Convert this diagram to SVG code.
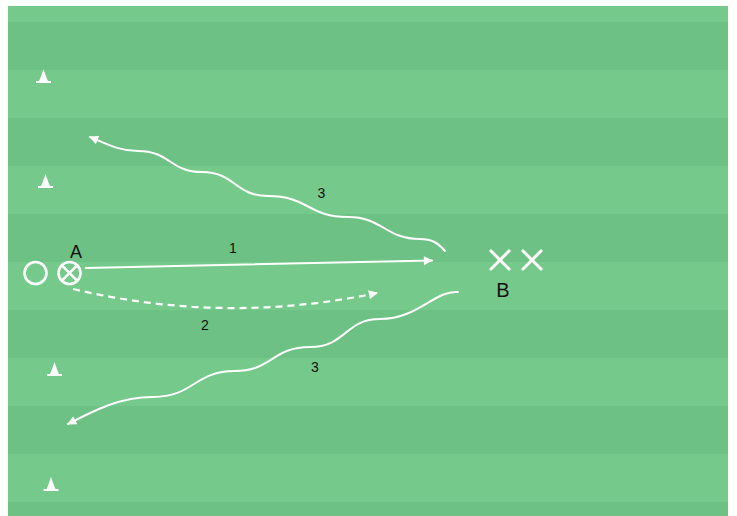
<svg xmlns="http://www.w3.org/2000/svg" width="737" height="516" viewBox="0 0 737 516">
<defs>
<style>
.light{fill:#75ca8b}
.dark{fill:#6ec184}
.line{fill:none;stroke:#ffffff;stroke-width:2;stroke-linecap:round}
.dash{fill:none;stroke:#ffffff;stroke-width:2.2;stroke-dasharray:7 5}
.mark{fill:none;stroke:#ffffff;stroke-width:2.6}
.cross{stroke:#ffffff;stroke-width:3;stroke-linecap:butt}
.cone{fill:#ffffff}
.lbl{font-family:"Liberation Sans",Arial,sans-serif;fill:#111111;text-anchor:middle}
</style>
<marker id="ah" viewBox="0 0 10 10" refX="9" refY="5" markerWidth="10" markerHeight="9" markerUnits="userSpaceOnUse" orient="auto">
<path d="M0,0 L10,5 L0,10 Z" fill="#ffffff"/>
</marker>
<path id="conePath" d="M0,-14 C-1.5,-10 -3,-5 -4.5,-2 L-7.5,-2 L-7.5,0 L7.5,0 L7.5,-2 L4.5,-2 C3,-5 1.5,-10 0,-14 Z"/>
</defs>
<rect x="0" y="0" width="737" height="516" fill="#ffffff"/>
<g id="pitch">
<rect class="light" x="8" y="6" width="720" height="510"/>
<rect class="dark" x="8" y="22" width="720" height="48"/>
<rect class="dark" x="8" y="118" width="720" height="48"/>
<rect class="dark" x="8" y="214" width="720" height="48"/>
<rect class="dark" x="8" y="310" width="720" height="48"/>
<rect class="dark" x="8" y="406" width="720" height="48"/>
<rect class="dark" x="8" y="502" width="720" height="14"/>
</g>
<g id="cones">
<use href="#conePath" class="cone" x="43.5" y="83"/>
<use href="#conePath" class="cone" x="45.5" y="188"/>
<use href="#conePath" class="cone" x="54.5" y="376"/>
<use href="#conePath" class="cone" x="51" y="491"/>
</g>
<g id="connectors">
<path id="run1" class="line" d="M86,268 L432,260.5" marker-end="url(#ah)"/>
<path id="run2" class="dash" d="M73,289 Q225,325 377,293" marker-end="url(#ah)"/>
<path id="run3a" class="line" d="M445,251 C438,243 432,239 420,239 C385,239 383,217 348,217 C308,217 308,196 268,196 C235,196 235,172 202,172 C170,172 170,151 138,151 C118,151 105,143 90,137" marker-end="url(#ah)"/>
<path id="run3b" class="line" d="M458,292 C435,290 418,319 380,319 C345,319 346,347 310,347 C272,347 272,371 235,371 C194,371 194,397 153,397 C120,397 95,410 68,424" marker-end="url(#ah)"/>
</g>
<g id="playerO">
<circle class="mark" cx="35.5" cy="273" r="11"/>
</g>
<g id="playerA">
<circle class="mark" cx="69.5" cy="273" r="11"/>
<line class="mark" x1="61.7" y1="265.2" x2="77.3" y2="280.8"/>
<line class="mark" x1="77.3" y1="265.2" x2="61.7" y2="280.8"/>
<text class="lbl" x="76" y="258" font-size="18">A</text>
</g>
<g id="defendersB">
<line class="cross" x1="490" y1="250" x2="510" y2="270"/>
<line class="cross" x1="510" y1="250" x2="490" y2="270"/>
<line class="cross" x1="522" y1="250" x2="542" y2="270"/>
<line class="cross" x1="542" y1="250" x2="522" y2="270"/>
<text class="lbl" x="503" y="297" font-size="20">B</text>
</g>
<g id="labels">
<text class="lbl" x="233" y="253" font-size="14">1</text>
<text class="lbl" x="205" y="330" font-size="14">2</text>
<text class="lbl" x="321.5" y="198" font-size="14">3</text>
<text class="lbl" x="315" y="372" font-size="14">3</text>
</g>
</svg>
